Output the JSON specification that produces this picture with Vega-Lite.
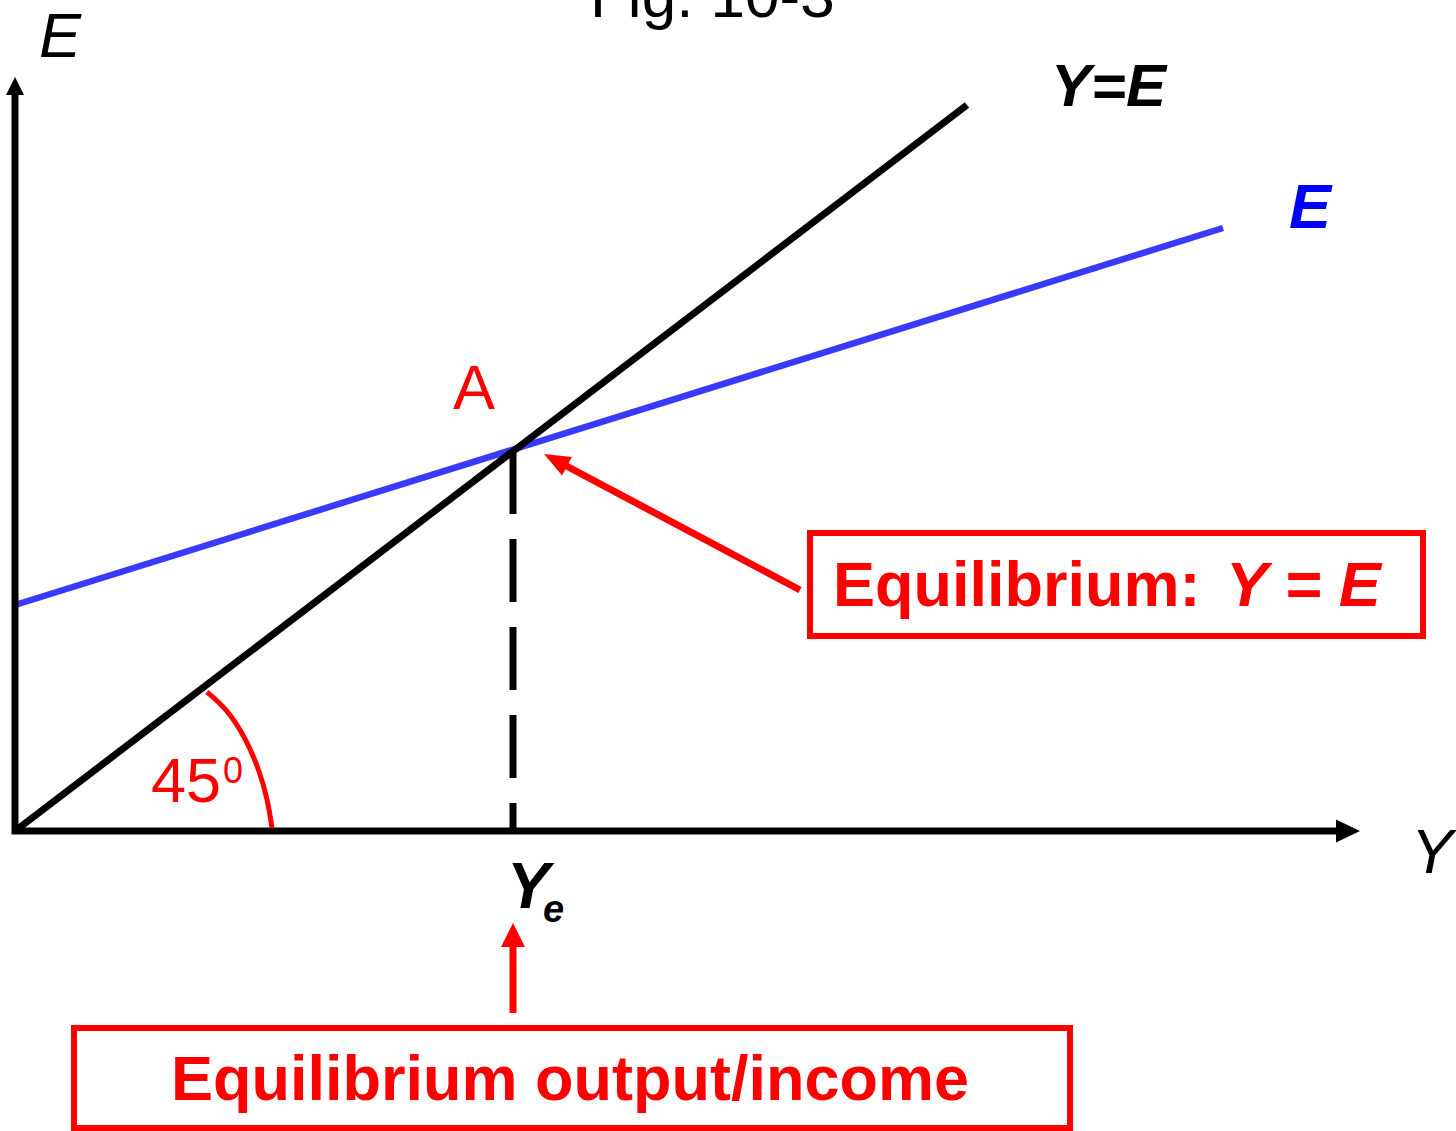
{
  "$schema": "https://vega.github.io/schema/vega-lite/v6.json",
  "width": 1456,
  "height": 1131,
  "padding": 0,
  "autosize": {"type": "none"},
  "background": "white",
  "config": {"view": {"stroke": null}},
  "datasets": {
    "axes": [
      {"x": 0, "y": 740, "o": 1},
      {"x": 0, "y": 0, "o": 2},
      {"x": 1325, "y": 0, "o": 3}
    ],
    "line45": [{"x": 0, "y": 0, "o": 1}, {"x": 952, "y": 726, "o": 2}],
    "eline": [{"x": 0, "y": 226, "o": 1}, {"x": 1208, "y": 603, "o": 2}],
    "dash": [{"x": 498, "y": 380, "o": 1}, {"x": 498, "y": 0, "o": 2}],
    "arc": [
      {"x": 192, "y": 139, "o": 1},
      {"x": 212, "y": 122, "o": 2},
      {"x": 230, "y": 94, "o": 3},
      {"x": 244, "y": 62, "o": 4},
      {"x": 253, "y": 30, "o": 5},
      {"x": 257, "y": 3, "o": 6}
    ],
    "diagShaft": [{"x": 785, "y": 241, "o": 1}, {"x": 542, "y": 370, "o": 2}],
    "upShaft": [{"x": 498, "y": -182, "o": 1}, {"x": 498, "y": -105, "o": 2}],
    "boxes": [
      {"x": 795, "x2": 1408, "y": 298, "y2": 195},
      {"x": 59, "x2": 1055, "y": -197, "y2": -297}
    ],
    "headY": [{"x": 0, "y": 754}],
    "headX": [{"x": 1345, "y": 0}],
    "headDiag": [{"x": 529, "y": 377}],
    "headUp": [{"x": 498, "y": -92}],
    "labels": [
      {"key": "fig", "x": 575, "y": 814, "label": "Fig. 10-3"},
      {"key": "Eaxis", "x": 24, "y": 774, "label": "E"},
      {"key": "Yaxis", "x": 1396, "y": -42, "label": "Y"},
      {"key": "YE", "x": 1036, "y": 725, "label": "Y=E"},
      {"key": "Eblue", "x": 1274, "y": 603, "label": "E"},
      {"key": "A", "x": 438, "y": 422, "label": "A"},
      {"key": "d45", "x": 136, "y": 29, "label": "45"},
      {"key": "deg", "x": 208, "y": 48, "label": "0"},
      {"key": "eq1", "x": 818, "y": 225, "label": "Equilibrium:"},
      {"key": "eq2", "x": 1211, "y": 225, "label": "Y = E"},
      {"key": "Ye1", "x": 492, "y": -77, "label": "Y"},
      {"key": "Ye2", "x": 528, "y": -91, "label": "e"},
      {"key": "out", "x": 555, "y": -269, "label": "Equilibrium output/income"}
    ]
  },
  "encoding": {
    "x": {"field": "x", "type": "quantitative", "scale": {"domain": [-15, 1441], "nice": false, "zero": false}, "axis": null},
    "y": {"field": "y", "type": "quantitative", "scale": {"domain": [-300, 831], "nice": false, "zero": false}, "axis": null}
  },
  "layer": [
    {
      "data": {"name": "eline"},
      "mark": {"type": "line", "color": "#3a3aff", "strokeWidth": 6.5, "strokeCap": "butt"},
      "encoding": {"order": {"field": "o"}}
    },
    {
      "data": {"name": "line45"},
      "mark": {"type": "line", "color": "black", "strokeWidth": 7, "strokeCap": "butt"},
      "encoding": {"order": {"field": "o"}}
    },
    {
      "data": {"name": "dash"},
      "mark": {"type": "line", "color": "black", "strokeWidth": 7, "strokeCap": "butt", "strokeDash": [63, 25]},
      "encoding": {"order": {"field": "o"}}
    },
    {
      "data": {"name": "axes"},
      "mark": {"type": "line", "color": "black", "strokeWidth": 7, "strokeCap": "butt", "strokeJoin": "miter"},
      "encoding": {"order": {"field": "o"}}
    },
    {
      "data": {"name": "arc"},
      "mark": {"type": "line", "color": "#ff0000", "strokeWidth": 5, "strokeCap": "butt", "interpolate": "basis"},
      "encoding": {"order": {"field": "o"}}
    },
    {
      "data": {"name": "diagShaft"},
      "mark": {"type": "line", "color": "#ff0000", "strokeWidth": 7, "strokeCap": "butt"},
      "encoding": {"order": {"field": "o"}}
    },
    {
      "data": {"name": "upShaft"},
      "mark": {"type": "line", "color": "#ff0000", "strokeWidth": 7, "strokeCap": "butt"},
      "encoding": {"order": {"field": "o"}}
    },
    {
      "data": {"name": "boxes"},
      "mark": {"type": "rect", "fill": null, "fillOpacity": 0, "stroke": "#ff0000", "strokeWidth": 6},
      "encoding": {
        "x2": {"field": "x2"},
        "y2": {"field": "y2"}
      }
    },
    {
      "data": {"name": "headY"},
      "mark": {"type": "point", "shape": "M0,0L0.5,1L-0.5,1Z", "size": 1296, "angle": 0, "filled": true, "fill": "black", "opacity": 1, "strokeWidth": 0}
    },
    {
      "data": {"name": "headX"},
      "mark": {"type": "point", "shape": "M0,0L0.48,1L-0.48,1Z", "size": 2304, "angle": 90, "filled": true, "fill": "black", "opacity": 1, "strokeWidth": 0}
    },
    {
      "data": {"name": "headDiag"},
      "mark": {"type": "point", "shape": "M0,0L0.4,1L-0.4,1Z", "size": 2704, "angle": 298, "filled": true, "fill": "#ff0000", "opacity": 1, "strokeWidth": 0}
    },
    {
      "data": {"name": "headUp"},
      "mark": {"type": "point", "shape": "M0,0L0.5,1L-0.5,1Z", "size": 2304, "angle": 0, "filled": true, "fill": "#ff0000", "opacity": 1, "strokeWidth": 0}
    },
    {
      "data": {"name": "labels"},
      "transform": [{"filter": "datum.key == 'fig'"}],
      "mark": {"type": "text", "align": "left", "baseline": "alphabetic", "font": "Liberation Sans", "fontSize": 62, "color": "black"},
      "encoding": {"text": {"field": "label"}}
    },
    {
      "data": {"name": "labels"},
      "transform": [{"filter": "datum.key == 'Eaxis' || datum.key == 'Yaxis'"}],
      "mark": {"type": "text", "align": "left", "baseline": "alphabetic", "font": "Liberation Sans", "fontSize": 63, "fontStyle": "italic", "color": "black"},
      "encoding": {"text": {"field": "label"}}
    },
    {
      "data": {"name": "labels"},
      "transform": [{"filter": "datum.key == 'YE'"}],
      "mark": {"type": "text", "align": "left", "baseline": "alphabetic", "font": "Liberation Sans", "fontSize": 60, "fontStyle": "italic", "fontWeight": "bold", "color": "black"},
      "encoding": {"text": {"field": "label"}}
    },
    {
      "data": {"name": "labels"},
      "transform": [{"filter": "datum.key == 'Eblue'"}],
      "mark": {"type": "text", "align": "left", "baseline": "alphabetic", "font": "Liberation Sans", "fontSize": 63, "fontStyle": "italic", "fontWeight": "bold", "color": "#0000ff"},
      "encoding": {"text": {"field": "label"}}
    },
    {
      "data": {"name": "labels"},
      "transform": [{"filter": "datum.key == 'A' || datum.key == 'd45'"}],
      "mark": {"type": "text", "align": "left", "baseline": "alphabetic", "font": "Liberation Sans", "fontSize": 63, "color": "#ff0000"},
      "encoding": {"text": {"field": "label"}}
    },
    {
      "data": {"name": "labels"},
      "transform": [{"filter": "datum.key == 'deg'"}],
      "mark": {"type": "text", "align": "left", "baseline": "alphabetic", "font": "Liberation Sans", "fontSize": 36, "color": "#ff0000"},
      "encoding": {"text": {"field": "label"}}
    },
    {
      "data": {"name": "labels"},
      "transform": [{"filter": "datum.key == 'eq1'"}],
      "mark": {"type": "text", "align": "left", "baseline": "alphabetic", "font": "Liberation Sans", "fontSize": 63, "fontWeight": "bold", "color": "#ff0000"},
      "encoding": {"text": {"field": "label"}}
    },
    {
      "data": {"name": "labels"},
      "transform": [{"filter": "datum.key == 'out'"}],
      "mark": {"type": "text", "align": "center", "baseline": "alphabetic", "font": "Liberation Sans", "fontSize": 63, "fontWeight": "bold", "color": "#ff0000"},
      "encoding": {"text": {"field": "label"}}
    },
    {
      "data": {"name": "labels"},
      "transform": [{"filter": "datum.key == 'eq2'"}],
      "mark": {"type": "text", "align": "left", "baseline": "alphabetic", "font": "Liberation Sans", "fontSize": 63, "fontWeight": "bold", "fontStyle": "italic", "color": "#ff0000"},
      "encoding": {"text": {"field": "label"}}
    },
    {
      "data": {"name": "labels"},
      "transform": [{"filter": "datum.key == 'Ye1'"}],
      "mark": {"type": "text", "align": "left", "baseline": "alphabetic", "font": "Liberation Sans", "fontSize": 64, "fontWeight": "bold", "fontStyle": "italic", "color": "black"},
      "encoding": {"text": {"field": "label"}}
    },
    {
      "data": {"name": "labels"},
      "transform": [{"filter": "datum.key == 'Ye2'"}],
      "mark": {"type": "text", "align": "left", "baseline": "alphabetic", "font": "Liberation Sans", "fontSize": 38, "fontWeight": "bold", "fontStyle": "italic", "color": "black"},
      "encoding": {"text": {"field": "label"}}
    }
  ]
}
